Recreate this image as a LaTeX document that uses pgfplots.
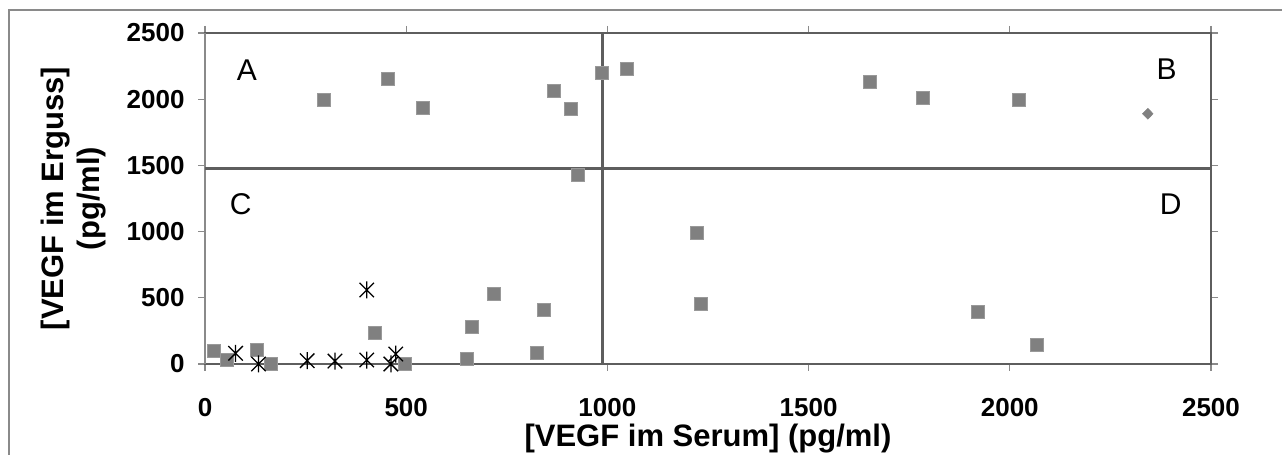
\documentclass[border=0pt]{standalone}
\usepackage{fontspec}
\setmainfont{Liberation Sans}
\usepackage{pgfplots}
\pgfplotsset{compat=1.18}
\definecolor{boxgray}{HTML}{5E5E5E}
\definecolor{axgray}{HTML}{8A8A8A}
\definecolor{markgray}{HTML}{808080}

% asterisk drawn as a vertical bar with an X over it
\pgfdeclareplotmark{vstar}{%
  \pgfpathmoveto{\pgfqpoint{0pt}{\pgfplotmarksize}}%
  \pgfpathlineto{\pgfqpoint{0pt}{-\pgfplotmarksize}}%
  \pgfpathmoveto{\pgfqpoint{-0.85\pgfplotmarksize}{0.85\pgfplotmarksize}}%
  \pgfpathlineto{\pgfqpoint{0.85\pgfplotmarksize}{-0.85\pgfplotmarksize}}%
  \pgfpathmoveto{\pgfqpoint{-0.85\pgfplotmarksize}{-0.85\pgfplotmarksize}}%
  \pgfpathlineto{\pgfqpoint{0.85\pgfplotmarksize}{0.85\pgfplotmarksize}}%
  \pgfusepathqstroke}

\begin{document}
\begin{tikzpicture}[x=1bp,y=1bp]
\path[use as bounding box] (0,0) rectangle (1282,455);
% outer chart frame (cut at the right and bottom)
\draw[axgray, line width=1.5bp] (9,-20) -- (9,445) -- (1300,445);
\begin{axis}[
    at={(205bp,91bp)}, anchor=south west,
    scale only axis, width=1006bp, height=331bp,
    xmin=0, xmax=2500, ymin=0, ymax=2500,
    xtick={0,500,...,2500}, ytick={0,500,...,2500},
    tick align=outside,
    major tick length=7bp,
    tick style={axgray, line width=1.2bp},
    axis line style={draw=none},
    clip=false,
    scaled ticks=false,
    /pgf/number format/set thousands separator={},
    /pgf/number format/assume math mode=true,
    tick label style={font=\fontsize{26bp}{28bp}\selectfont\bfseries},
    xticklabel style={yshift=-24bp},
    yticklabel style={xshift=-10bp},
    xlabel={[VEGF im Serum] (pg/ml)},
    ylabel={[VEGF im Erguss]\\(pg/ml)},
    label style={font=\fontsize{31bp}{36bp}\selectfont\bfseries, align=center},
    xlabel style={yshift=0bp},
    ylabel style={yshift=14bp},
]
% plot area border and y axis line
\draw[boxgray, line width=2.5bp] (rel axis cs:0,0) rectangle (rel axis cs:1,1);
\draw[axgray, line width=2bp] (rel axis cs:0,0) -- (rel axis cs:0,1);

% quadrant dividers
\addplot[boxgray, line width=2.5bp, no marks] coordinates {(988,0) (988,2500)};
\addplot[boxgray, line width=2.5bp, no marks] coordinates {(0,1477) (2500,1477)};

% squares
\addplot[only marks, mark=square*, mark size=6.5bp,
         mark options={fill=markgray, draw=markgray!80!white, line width=0.5bp}]
  coordinates {
    (296,1999) (455,2153) (540,1936) (867,2060) (910,1926) (987,2200)
    (1048,2228) (926,1427) (1652,2128) (1784,2014) (2022,1994)
    (21,98) (54,35) (128,111) (164,5) (423,239) (497,5) (650,38)
    (663,279) (717,534) (824,86) (841,413) (1221,992) (1233,456)
    (1920,398) (2068,146)
  };

% diamond
\addplot[only marks, mark=diamond*, mark size=5.5bp,
         mark options={fill=markgray, draw=markgray, xscale=1.3}]
  coordinates {(2343,1890)};

% asterisks
\addplot[only marks, mark=vstar, mark size=8.5bp,
         mark options={black, line width=1.3bp}]
  coordinates {
    (76,81) (133,0) (254,25) (323,22) (402,30) (402,559) (462,0) (474,75)
  };

% quadrant letters
\node[font=\fontsize{30bp}{30bp}\selectfont] at (axis cs:104,2220) {A};
\node[font=\fontsize{30bp}{30bp}\selectfont] at (axis cs:2390,2230) {B};
\node[font=\fontsize{30bp}{30bp}\selectfont] at (axis cs:89,1208) {C};
\node[font=\fontsize{30bp}{30bp}\selectfont] at (axis cs:2400,1208) {D};
\end{axis}
\end{tikzpicture}
\end{document}
